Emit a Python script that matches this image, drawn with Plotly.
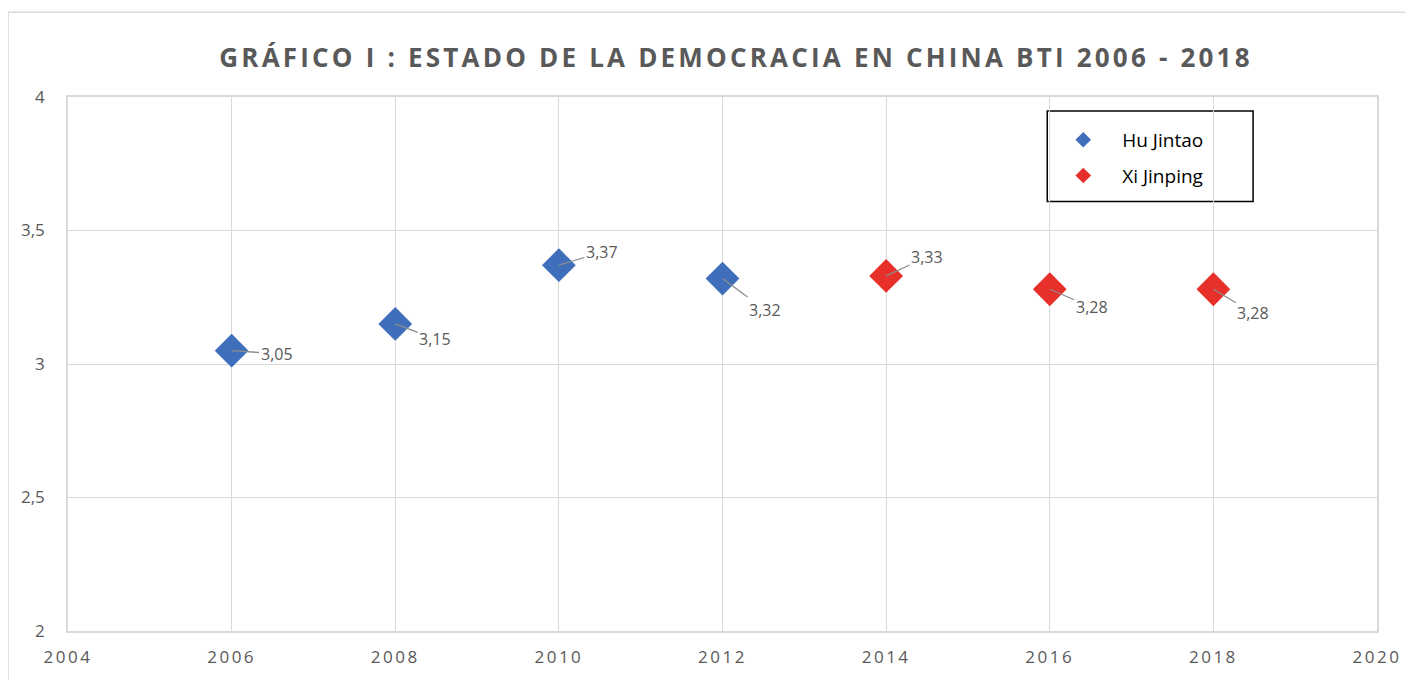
import plotly.graph_objects as go

# Data
hu_years = [2006, 2008, 2010, 2012]
hu_values = [3.05, 3.15, 3.37, 3.32]
xi_years = [2014, 2016, 2018]
xi_values = [3.33, 3.28, 3.28]

x_ticks = [2004, 2006, 2008, 2010, 2012, 2014, 2016, 2018, 2020]
y_ticks = [2, 2.5, 3, 3.5, 4]
y_tick_labels = ["2", "2,5", "3", "3,5", "4"]

title_text = "GRÁFICO I : ESTADO DE LA DEMOCRACIA EN CHINA BTI 2006 - 2018"

# label offsets (pixels) for leader-lined data labels
label_offsets = [(45, 3), (40, 15), (43, -13), (42, 31), (41, -19), (42, 18), (40, 24)]

OFF = 8  # page body margin
W, H = 1413 - OFF, 680 - OFF
L, T = 68 - OFF, 97 - OFF
pw, ph = 1310, 536
R, B = W - L - pw, H - T - ph


def px_x(x_ref):
    return (x_ref - 68) / pw


def px_y(y_ref):
    return (633 - y_ref) / ph


fig = go.Figure()
fig.add_trace(go.Scatter(
    x=hu_years, y=hu_values, mode="markers", name="Hu Jintao", legendgroup="a",
    marker=dict(symbol="diamond", size=26, color="#3f6fba", line=dict(width=0)),
))
fig.add_trace(go.Scatter(
    x=xi_years, y=xi_values, mode="markers", name="Xi Jinping", legendgroup="b",
    marker=dict(symbol="diamond", size=26, color="#e8302a", line=dict(width=0)),
))

all_x = hu_years + xi_years
all_y = hu_values + xi_values
for (xv, yv), (dx, dy) in zip(zip(all_x, all_y), label_offsets):
    fig.add_annotation(
        x=xv, y=yv, text=f"{yv:.2f}".replace(".", ","),
        showarrow=True, arrowhead=0, arrowwidth=1.3, arrowcolor="#8c8c8c",
        ax=dx, ay=dy, standoff=0, startstandoff=0,
        font=dict(family="Open Sans", size=16, color="#595959"),
        xanchor="center", yanchor="middle",
    )

sp = "<span style='letter-spacing:2.5px'>{}</span>"
fig.update_layout(
    width=W, height=H,
    margin=dict(l=L, r=R, t=T, b=B),
    paper_bgcolor="white", plot_bgcolor="white",
    separators=",.",
    title=dict(
        text="<b><span style='letter-spacing:3.2px'>" + title_text + "</span></b>",
        x=(736 - OFF) / W, xanchor="center", y=1 - (58 - OFF) / H, yanchor="middle",
        font=dict(family="Open Sans", size=26, color="#595959"),
    ),
    xaxis=dict(
        range=[2004, 2020], tickmode="array", tickvals=x_ticks,
        ticktext=[sp.format(t) for t in x_ticks],
        showgrid=True, gridcolor="#d9d9d9", gridwidth=1.3,
        showline=True, linecolor="#d9d9d9", linewidth=1.5, mirror=True,
        zeroline=False, ticks="outside", ticklen=10, tickcolor="rgba(0,0,0,0)",
        tickfont=dict(family="Open Sans", size=17, color="#595959"),
    ),
    yaxis=dict(
        range=[2, 4], tickmode="array", tickvals=y_ticks, ticktext=y_tick_labels,
        showgrid=True, gridcolor="#d9d9d9", gridwidth=1.3,
        showline=True, linecolor="#d9d9d9", linewidth=1.5, mirror=True,
        zeroline=False, ticks="outside", ticklen=18, tickcolor="rgba(0,0,0,0)",
        tickfont=dict(family="Open Sans", size=17, color="#595959"),
    ),
    legend=dict(
        x=px_x(1045), y=px_y(121), xanchor="left", yanchor="top",
        bgcolor="rgba(0,0,0,0)", borderwidth=0,
        font=dict(family="Open Sans", size=19, color="#000000"),
        itemsizing="constant", traceorder="grouped", tracegroupgap=8,
        itemwidth=68,
    ),
    showlegend=True,
)

# legend frame
fig.add_shape(
    type="rect", xref="paper", yref="paper",
    x0=px_x(1048), x1=px_x(1254), y0=px_y(202), y1=px_y(111),
    line=dict(color="black", width=1.5), fillcolor="white", layer="below",
)

# outer chart border
fig.add_shape(
    type="rect", xref="paper", yref="paper",
    x0=px_x(8), x1=px_x(1411), y0=px_y(700), y1=px_y(12),
    line=dict(color="#d9d9d9", width=1.5), layer="below",
)

fig.write_html("out.html")
